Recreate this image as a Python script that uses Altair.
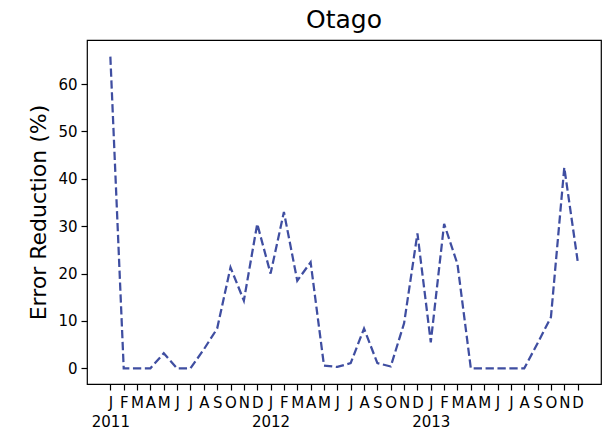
import altair as alt
import pandas as pd

months = ["J", "F", "M", "A", "M", "J", "J", "A", "S", "O", "N", "D"]
years = [2011, 2012, 2013]
values = [
    65.8, 0.0, 0.0, 0.0, 3.2, 0.0, 0.0, 4.0, 8.4, 21.3, 14.3, 30.5,
    20.0, 33.0, 18.5, 22.4, 0.6, 0.3, 1.1, 8.4, 1.1, 0.4, 9.5, 28.5,
    5.5, 30.5, 22.0, 0.0, 0.0, 0.0, 0.0, 0.0, 5.3, 10.8, 42.4, 22.7,
]
y_ticks = [0, 10, 20, 30, 40, 50, 60]

df = pd.DataFrame({"idx": list(range(len(values))), "value": values})

month_arr = "[" + ",".join("'%s'" % m for m in months) + "]"
label_expr = (
    f"datum.value % 12 == 0 ? [{month_arr}[datum.value % 12], toString({years[0]} + floor(datum.value / 12))]"
    f" : {month_arr}[datum.value % 12]"
)

FONT = "DejaVu Sans"

chart = (
    alt.Chart(df)
    .mark_line(color="#3f4ea1", strokeWidth=2.25, strokeDash=[8.3, 3.6])
    .encode(
        x=alt.X(
            "idx:Q",
            scale=alt.Scale(domain=[-1.75, 36.75], nice=False, zero=False),
            axis=alt.Axis(
                values=list(range(len(values))),
                labelExpr=label_expr,
                title=None,
                grid=False,
                domain=False,
                ticks=True,
                tickSize=6,
                tickWidth=1.2,
                tickColor="black",
                labelFont=FONT,
                labelFontSize=15,
                labelColor="black",
                labelPadding=5,
                labelLineHeight=19,
                labelAngle=0,
                labelAlign="center",
                labelBaseline="top",
                labelOverlap=False,
                labelBound=False,
                labelFlush=False,
            ),
        ),
        y=alt.Y(
            "value:Q",
            scale=alt.Scale(domain=[-3.3, 69.3], nice=False, zero=False),
            axis=alt.Axis(
                values=y_ticks,
                title="Error Reduction (%)",
                titleFont=FONT,
                titleFontSize=22,
                titleFontWeight="normal",
                titleColor="black",
                titleBaseline="alphabetic",
                titleX=-42,
                titleY=172,
                titleAngle=270,
                grid=False,
                domain=False,
                tickSize=6,
                tickWidth=1.2,
                tickColor="black",
                labelFont=FONT,
                labelFontSize=15,
                labelColor="black",
                labelPadding=4,
                labelOverlap=False,
                labelFlush=False,
            ),
        ),
    )
    .properties(
        width=514,
        height=344,
        title=alt.TitleParams(
            "Otago",
            font=FONT,
            fontSize=25,
            fontWeight="normal",
            color="black",
            baseline="alphabetic",
            offset=12,
            dy=25,
            anchor="middle",
            frame="group",
        ),
        autosize=alt.AutoSizeParams(type="none"),
        padding={"left": 87, "top": 40, "right": 1, "bottom": 45},
        background="white",
    )
    .configure_view(stroke="black", strokeWidth=1.2)
)

chart.save("out.html", embed_options={"renderer": "svg", "actions": False})
